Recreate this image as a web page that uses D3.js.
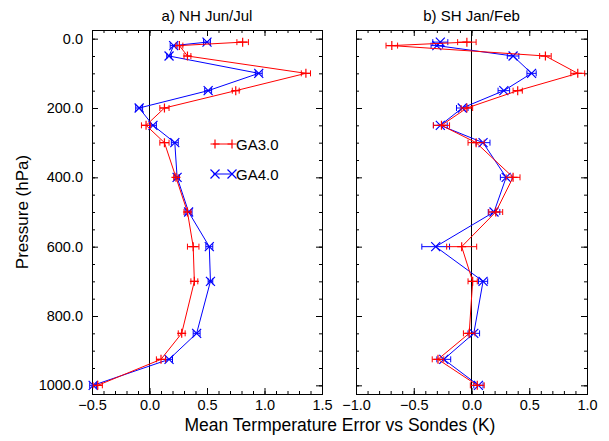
<!DOCTYPE html>
<html>
<head>
<meta charset="utf-8">
<script src="https://cdn.jsdelivr.net/npm/d3@7"></script>
<style>
  body { margin: 0; background: #fff; }
  text { font-family: "Liberation Sans", Arial, sans-serif; }
</style>
</head>
<body>
<script>
// pressure levels (hPa)
const pressure = [10, 20, 50, 100, 150, 200, 250, 300, 400, 500, 600, 700, 850, 925, 1000];

// a) NH Jun/Jul
const nhGA3 = [0.81, 0.26, 0.33, 1.36, 0.75, 0.13, -0.03, 0.13, 0.23, 0.33, 0.38, 0.39, 0.28, 0.10, -0.45];
const nhGA3err = [0.05, 0.03, 0.03, 0.04, 0.03, 0.04, 0.04, 0.04, 0.02, 0.03, 0.05, 0.03, 0.03, 0.04, 0.04];
const nhGA4 = [0.50, 0.21, 0.17, 0.95, 0.51, -0.09, 0.03, 0.22, 0.24, 0.34, 0.52, 0.53, 0.41, 0.17, -0.49];
const nhGA4err = [0.03, 0.03, 0.02, 0.03, 0.03, 0.03, 0.03, 0.03, 0.02, 0.03, 0.03, 0.02, 0.03, 0.03, 0.03];

// b) SH Jan/Feb
const shGA3 = [-0.04, -0.69, 0.64, 0.92, 0.40, -0.04, -0.26, 0.04, 0.36, 0.21, -0.085, 0.01, -0.02, -0.29, 0.05];
const shGA3err = [0.08, 0.05, 0.05, 0.06, 0.04, 0.05, 0.07, 0.07, 0.06, 0.06, 0.13, 0.04, 0.05, 0.05, 0.06];
const shGA4 = [-0.27, -0.30, 0.36, 0.52, 0.28, -0.08, -0.27, 0.10, 0.30, 0.195, -0.31, 0.10, 0.02, -0.24, 0.06];
const shGA4err = [0.065, 0.05, 0.05, 0.04, 0.05, 0.05, 0.06, 0.06, 0.05, 0.05, 0.12, 0.04, 0.05, 0.06, 0.04];

const seriesNames = ["GA3.0", "GA4.0"];
const panelTitles = ["a) NH Jun/Jul", "b) SH Jan/Feb"];
const yMajor = [0, 200, 400, 600, 800, 1000];

const width = 609, height = 441;
const plotTop = 30, plotBottom = 394;

const svg = d3.select("body").append("svg")
  .attr("width", width)
  .attr("height", height);

const y = d3.scaleLinear().domain([-25, 1025]).range([plotTop, plotBottom]);

const panels = [
  { title: panelTitles[0], x: d3.scaleLinear().domain([-0.5, 1.5]).range([92, 322]),
    major: [-0.5, 0, 0.5, 1.0, 1.5], ga3: nhGA3, ga3err: nhGA3err, ga4: nhGA4, ga4err: nhGA4err, yLabels: true },
  { title: panelTitles[1], x: d3.scaleLinear().domain([-1, 1]).range([356, 587]),
    major: [-1, -0.5, 0, 0.5, 1.0], ga3: shGA3, ga3err: shGA3err, ga4: shGA4, ga4err: shGA4err, yLabels: false }
];

const fmt = d3.format(".1f");

function drawMarker(g, kind, cx, cy, color) {
  const s = 4.5;
  if (kind === "plus") {
    g.append("path").attr("d", `M${cx - s},${cy}H${cx + s}M${cx},${cy - s}V${cy + s}`)
      .attr("stroke", color).attr("stroke-width", 1.2).attr("fill", "none");
  } else {
    g.append("path").attr("d", `M${cx - s},${cy - s}L${cx + s},${cy + s}M${cx - s},${cy + s}L${cx + s},${cy - s}`)
      .attr("stroke", color).attr("stroke-width", 1.2).attr("fill", "none");
  }
}

function drawSeries(g, x, vals, errs, color, kind) {
  const data = pressure.map((p, i) => ({ p: p, v: vals[i], e: errs[i] }));
  const line = d3.line().x(d => x(d.v)).y(d => y(d.p));
  g.append("path").datum(data)
    .attr("d", line)
    .attr("fill", "none")
    .attr("stroke", color)
    .attr("stroke-width", 1);
  data.forEach(d => {
    const cy = y(d.p), x0 = x(d.v - d.e), x1 = x(d.v + d.e);
    g.append("path")
      .attr("d", `M${x0},${cy}H${x1}M${x0},${cy - 3}V${cy + 3}M${x1},${cy - 3}V${cy + 3}`)
      .attr("stroke", color).attr("stroke-width", 1).attr("fill", "none");
    drawMarker(g, kind, x(d.v), cy, color);
  });
}

panels.forEach(pn => {
  const x = pn.x;
  const g = svg.append("g");
  const [x0, x1] = x.range();
  const minorX = d3.range(x.domain()[0], x.domain()[1] + 0.001, 0.1);
  const minorY = d3.range(0, 1001, 50);

  // axes: ticks point inward on all four sides
  g.append("g").attr("transform", `translate(0,${plotBottom})`)
    .call(d3.axisBottom(x).tickValues(minorX).tickSize(-3).tickFormat(""));
  g.append("g").attr("transform", `translate(0,${plotBottom})`)
    .call(d3.axisBottom(x).tickValues(pn.major).tickSize(-6).tickPadding(6).tickFormat(fmt));
  g.append("g").attr("transform", `translate(0,${plotTop})`)
    .call(d3.axisTop(x).tickValues(minorX).tickSize(-3).tickFormat(""));
  g.append("g").attr("transform", `translate(0,${plotTop})`)
    .call(d3.axisTop(x).tickValues(pn.major).tickSize(-6).tickFormat(""));
  g.append("g").attr("transform", `translate(${x0},0)`)
    .call(d3.axisLeft(y).tickValues(minorY).tickSize(-3).tickFormat(""));
  g.append("g").attr("transform", `translate(${x0},0)`)
    .call(d3.axisLeft(y).tickValues(yMajor).tickSize(-6).tickPadding(9)
      .tickFormat(pn.yLabels ? fmt : ""));
  g.append("g").attr("transform", `translate(${x1},0)`)
    .call(d3.axisRight(y).tickValues(minorY).tickSize(-3).tickFormat(""));
  g.append("g").attr("transform", `translate(${x1},0)`)
    .call(d3.axisRight(y).tickValues(yMajor).tickSize(-6).tickFormat(""));

  g.selectAll(".domain").attr("stroke", "#000").attr("stroke-width", 1);
  g.selectAll(".tick line").attr("stroke", "#000");
  g.selectAll(".tick text").attr("fill", "#000").style("font-size", "14.5px")
    .style("font-family", "'Liberation Sans', Arial, sans-serif");

  // zero line
  g.append("line")
    .attr("x1", x(0)).attr("x2", x(0))
    .attr("y1", plotTop).attr("y2", plotBottom)
    .attr("stroke", "#000").attr("stroke-width", 1);

  drawSeries(g, x, pn.ga4, pn.ga4err, "#0000ff", "cross");
  drawSeries(g, x, pn.ga3, pn.ga3err, "#ff0000", "plus");

  g.append("text")
    .attr("x", (x0 + x1) / 2).attr("y", 21)
    .attr("text-anchor", "middle")
    .style("font-size", "15px")
    .text(pn.title);
});

// legend
const legend = svg.append("g");
[["#ff0000", "plus", 144], ["#0000ff", "cross", 174]].forEach((l, i) => {
  legend.append("line").attr("x1", 213).attr("x2", 232).attr("y1", l[2]).attr("y2", l[2])
    .attr("stroke", l[0]).attr("stroke-width", 1);
  drawMarker(legend, l[1], 215, l[2], l[0]);
  drawMarker(legend, l[1], 232, l[2], l[0]);
  legend.append("text").attr("x", 236).attr("y", l[2] + 5.5)
    .style("font-size", "15px").text(seriesNames[i]);
});

// axis titles
svg.append("text")
  .attr("x", 340).attr("y", 431)
  .attr("text-anchor", "middle")
  .style("font-size", "17.5px")
  .text("Mean Termperature Error vs Sondes (K)");

svg.append("text")
  .attr("transform", "translate(28,212) rotate(-90)")
  .attr("text-anchor", "middle")
  .style("font-size", "17px")
  .text("Pressure (hPa)");
</script>
</body>
</html>
